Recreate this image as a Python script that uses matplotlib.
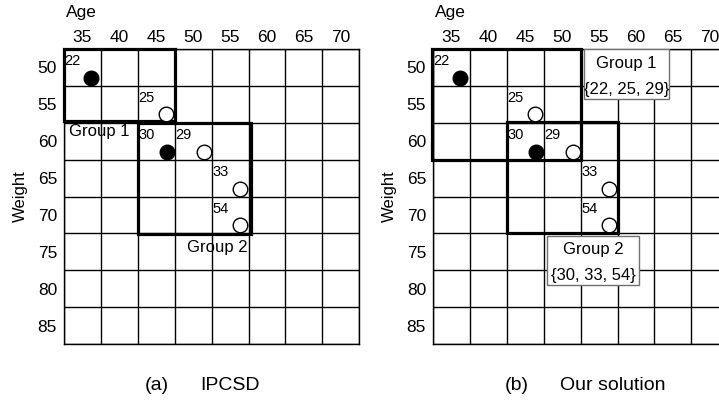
import numpy as np
import matplotlib.pyplot as plt
from matplotlib.patches import Rectangle

plt.rcParams['font.family'] = ['Liberation Sans', 'DejaVu Sans']

# grid categories
ages = [35, 40, 45, 50, 55, 60, 65, 70]
weights = [50, 55, 60, 65, 70, 75, 80, 85]

# records: id, age, weight, filled (cluster centre)
rec_ids = ['22', '25', '30', '29', '33', '54']
rec_age = [36.2, 46.3, 46.4, 51.5, 56.3, 56.3]
rec_weight = [51.4, 56.3, 61.5, 61.5, 66.5, 71.4]
rec_filled = [True, False, True, False, False, False]

# group outlines (age0, age1, weight0, weight1) per panel
groups_a = [(32.5, 47.5, 47.5, 57.2), (42.5, 57.8, 57.5, 72.6)]
groups_b = [(32.4, 52.6, 47.5, 62.5), (42.5, 57.5, 57.4, 72.5)]

# group members shown in panel (b)
members_1 = [22, 25, 29]
members_2 = [30, 33, 54]

fig = plt.figure(figsize=(7.19, 4.01), dpi=100)
ax_a = fig.add_axes([64 / 719, 57 / 401, 295.3 / 719, 295 / 401])
ax_b = fig.add_axes([433 / 719, 57 / 401, 295.3 / 719, 295 / 401])


def draw_grid(ax, groups):
    ax.set_xlim(32.5, 72.5)
    ax.set_ylim(87.5, 47.5)
    ax.xaxis.tick_top()
    ax.set_xticks(ages)
    ax.set_yticks(weights)
    ax.tick_params(length=0, labelsize=12.5)
    ax.tick_params(axis='x', pad=3)
    ax.tick_params(axis='y', pad=5)
    for v in np.arange(32.5, 73, 5):
        ax.axvline(v, color='black', lw=1.0, zorder=1)
    for v in np.arange(47.5, 88, 5):
        ax.axhline(v, color='black', lw=1.0, zorder=1)
    for s in ax.spines.values():
        s.set_linewidth(1.0)
    for (x0, x1, y0, y1) in groups:
        ax.add_patch(Rectangle((x0, y0), x1 - x0, y1 - y0, fill=False,
                               ec='black', lw=2.3, zorder=3, clip_on=False))
    for rid, x, y, f in zip(rec_ids, rec_age, rec_weight, rec_filled):
        cx = np.floor((x - 32.5) / 5) * 5 + 32.5
        cy = np.floor((y - 47.5) / 5) * 5 + 47.5
        ax.text(cx + 0.1, cy + 0.7, rid, fontsize=10.5, ha='left', va='top', zorder=4)
        ax.plot(x, y, 'o', ms=10.5, mfc='black' if f else 'white',
                mec='black', mew=1.0, zorder=5, clip_on=False)
    ax.text(0.007, 1.125, 'Age', transform=ax.transAxes, fontsize=12.5,
            ha='left', va='center')
    ax.text(-0.148, 0.5, 'Weight', transform=ax.transAxes, fontsize=12,
            rotation=90, ha='center', va='center')


draw_grid(ax_a, groups_a)
draw_grid(ax_b, groups_b)

# panel (a) group labels
ax_a.text(33.2, 58.7, 'Group 1', fontsize=12, ha='left', va='center', zorder=4)
ax_a.text(53.2, 74.4, 'Group 2', fontsize=12, ha='center', va='center', zorder=4)

# panel (b) group boxes
def group_box(ax, x0, x1, y0, y1, name, members):
    ax.add_patch(Rectangle((x0, y0), x1 - x0, y1 - y0, fc='white', ec='#707070',
                           lw=1.0, zorder=6))
    xc = (x0 + x1) / 2
    ax.text(xc, y0 + 0.28 * (y1 - y0), name, fontsize=12, ha='center',
            va='center', zorder=7)
    ax.text(xc, y0 + 0.8 * (y1 - y0), '{' + ', '.join(str(m) for m in members) + '}',
            fontsize=12, ha='center', va='center', zorder=7)


group_box(ax_b, 52.9, 64.5, 47.55, 54.3, 'Group 1', members_1)
group_box(ax_b, 48.0, 60.45, 72.8, 79.5, 'Group 2', members_2)

fig.text(145 / 719, 16 / 401, '(a)', fontsize=14, ha='left', va='center')
fig.text(200 / 719, 16 / 401, 'IPCSD', fontsize=14, ha='left', va='center')
fig.text(505 / 719, 16 / 401, '(b)', fontsize=14, ha='left', va='center')
fig.text(560 / 719, 16 / 401, 'Our solution', fontsize=14, ha='left', va='center')

fig.savefig('out.png', dpi=100)
